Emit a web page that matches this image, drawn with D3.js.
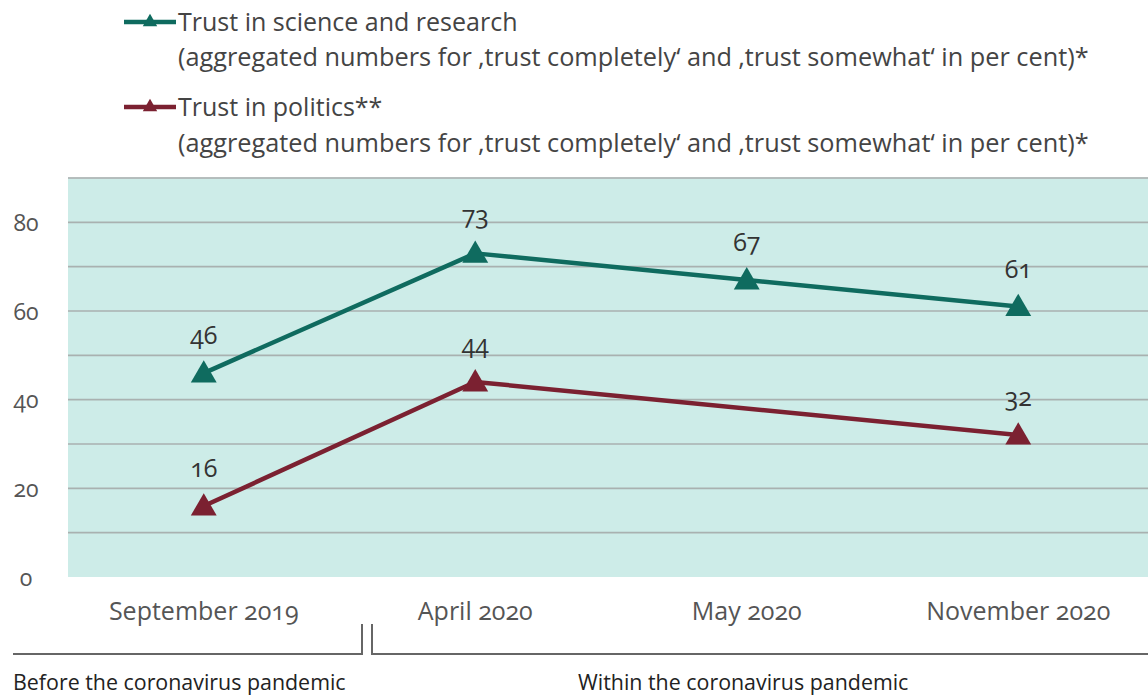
<!DOCTYPE html>
<html><head><meta charset="utf-8">
<script src="https://cdn.jsdelivr.net/npm/d3@7"></script>
<style>
html,body{margin:0;padding:0;background:#fff;}
text{font-family:"Open Sans","Noto Sans",sans-serif;font-feature-settings:"onum";}
</style></head>
<body><svg id="c" width="1148" height="698"></svg>
<script>
const categories = ["September 2019","April 2020","May 2020","November 2020"];
const scienceValues = [46,73,67,61];
const politicsValues = [16,44,null,32];
const yTicks = [0,20,40,60,80];
const gridValues = [10,20,30,40,50,60,70,80,90];
const seriesNames = ["Trust in science and research","Trust in politics**"];
const legendSub = "(aggregated numbers for \u201Atrust completely\u2018 and \u201Atrust somewhat\u2018 in per cent)*";
const periodLabels = ["Before the coronavirus pandemic","Within the coronavirus pandemic"];
const colors = ["#0f6b5f","#7b2131"];

const svg = d3.select("#c");
const plot = {left:68,right:1148,top:178,bottom:577};
const x = d3.scaleBand().domain(categories).range([plot.left, plot.right+6]);
const xc = d => x(d)+x.bandwidth()/2;
const y = d3.scaleLinear().domain([0,90]).range([plot.bottom, plot.top]);

svg.append("rect").attr("x",plot.left).attr("y",plot.top)
  .attr("width",plot.right-plot.left).attr("height",plot.bottom-plot.top)
  .attr("fill","#cdece8");
svg.append("line").attr("x1",plot.left).attr("x2",plot.right).attr("y1",plot.top).attr("y2",plot.top)
  .attr("stroke","#d4dcdb").attr("stroke-width",1.5);

svg.append("g").selectAll("line").data(gridValues).join("line")
  .attr("x1",plot.left).attr("x2",plot.right)
  .attr("y1",d=>y(d)).attr("y2",d=>y(d))
  .attr("stroke","#a9b1b0").attr("stroke-width",1.6);

// y axis labels
const yAxis = d3.axisLeft(y).tickValues(yTicks).tickSize(0).tickPadding(0);
const ya = svg.append("g").attr("transform","translate(36,0)").call(yAxis);
ya.select(".domain").remove();
ya.selectAll("text").attr("font-size",23).attr("fill","#555").attr("text-anchor","middle")
  .attr("x",-10).attr("dy","0.35em");

// x axis labels
const xAxis = d3.axisBottom(x).tickSize(0).tickPadding(0);
const xa = svg.append("g").attr("transform","translate(0,620)").call(xAxis);
xa.select(".domain").remove();
xa.selectAll("text").attr("font-size",25).attr("fill","#555").attr("dy",0);

// lines
const series = [scienceValues, politicsValues];
const tri = d3.symbol().type(d3.symbolTriangle).size(290);
series.forEach((vals,i)=>{
  const pts = categories.map((c,j)=>({c, v:vals[j]})).filter(d=>d.v!=null);
  const line = d3.line().x(d=>xc(d.c)).y(d=>y(d.v));
  svg.append("path").datum(pts).attr("d",line).attr("fill","none")
    .attr("stroke",colors[i]).attr("stroke-width",4.5).attr("stroke-linejoin","round");
  svg.append("g").selectAll("path").data(pts).join("path")
    .attr("d",tri).attr("fill",colors[i])
    .attr("transform",d=>`translate(${xc(d.c)},${y(d.v)+2})`);
  svg.append("g").selectAll("text").data(pts).join("text")
    .attr("x",d=>xc(d.c)).attr("y",d=>y(d.v)-29)
    .attr("text-anchor","middle").attr("font-size",25).attr("fill","#333")
    .text(d=>d.v);
});

// legend
const legTri = d3.symbol().type(d3.symbolTriangle).size(90);
[[22,57],[107,143]].forEach((ys,i)=>{
  const g = svg.append("g");
  g.append("line").attr("x1",124).attr("x2",176).attr("y1",ys[0]).attr("y2",ys[0])
    .attr("stroke",colors[i]).attr("stroke-width",4.5);
  g.append("path").attr("d",legTri).attr("fill",colors[i]).attr("transform",`translate(150,${ys[0]})`);
  g.append("text").attr("x",178).attr("y",ys[0]).attr("dy","0.35em").attr("font-size",25)
    .attr("fill","#444").text(seriesNames[i]);
  g.append("text").attr("x",178).attr("y",ys[1]).attr("dy","0.35em").attr("font-size",25.3)
    .attr("fill","#444").text(legendSub);
});

// period brackets
const br = svg.append("g").attr("stroke","#666").attr("stroke-width",2).attr("fill","none");
br.append("path").attr("d","M13,654H362V624");
br.append("path").attr("d","M372,624V654H1148");
svg.append("text").attr("x",13).attr("y",690).attr("font-size",21.4).attr("fill","#222").text(periodLabels[0]);
svg.append("text").attr("x",578).attr("y",690).attr("font-size",21.4).attr("fill","#222").text(periodLabels[1]);
</script></body></html>
